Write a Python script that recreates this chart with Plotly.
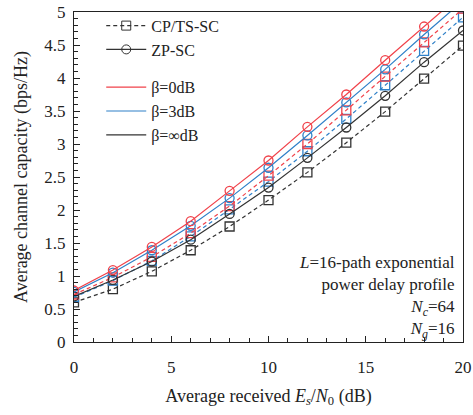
import plotly.graph_objects as go

snr_db = [0, 2, 4, 6, 8, 10, 12, 14, 16, 18, 20]

zp_beta0 = [0.78, 1.09, 1.44, 1.83, 2.29, 2.75, 3.26, 3.75, 4.27, 4.78, 5.29]
zp_beta3 = [0.76, 1.05, 1.39, 1.76, 2.18, 2.64, 3.13, 3.63, 4.13, 4.66, 5.17]
zp_betainf = [0.69, 0.94, 1.22, 1.55, 1.94, 2.34, 2.79, 3.25, 3.73, 4.24, 4.72]
cp_beta0 = [0.72, 0.98, 1.29, 1.65, 2.06, 2.52, 3.00, 3.51, 4.02, 4.54, 5.05]
cp_beta3 = [0.68, 0.93, 1.23, 1.60, 2.01, 2.43, 2.89, 3.38, 3.89, 4.41, 4.92]
cp_betainf = [0.60, 0.80, 1.07, 1.39, 1.75, 2.15, 2.57, 3.02, 3.49, 3.99, 4.49]

RED = "#f0424a"
BLUE = "#2f80c8"
BLACK = "#333333"
DASH = "4px,3px"
FONT = "Liberation Serif"

fig = go.Figure()

series = [
    (cp_betainf, BLACK, "square-open", DASH),
    (cp_beta3, BLUE, "square-open", DASH),
    (cp_beta0, RED, "square-open", DASH),
    (zp_betainf, BLACK, "circle-open", "solid"),
    (zp_beta3, BLUE, "circle-open", "solid"),
    (zp_beta0, RED, "circle-open", "solid"),
]
for ys, col, sym, dash in series:
    fig.add_trace(go.Scatter(
        x=snr_db, y=ys, mode="lines+markers",
        line=dict(color=col, width=1.2, dash=dash),
        marker=dict(symbol=sym, size=9, color=col, line=dict(width=1.3)),
        showlegend=False, cliponaxis=True,
    ))

# legend entries
fig.add_trace(go.Scatter(x=[None], y=[None], mode="lines+markers", name="CP/TS-SC",
                         line=dict(color=BLACK, width=1.2, dash=DASH),
                         marker=dict(symbol="square-open", size=9, color=BLACK),
                         legendgroup="a"))
fig.add_trace(go.Scatter(x=[None], y=[None], mode="lines+markers", name="ZP-SC",
                         line=dict(color=BLACK, width=1.2),
                         marker=dict(symbol="circle-open", size=9, color=BLACK),
                         legendgroup="a"))
for name, col in [("β=0dB", RED), ("β=3dB", BLUE), ("β=∞dB", BLACK)]:
    fig.add_trace(go.Scatter(x=[None], y=[None], mode="lines", name=name,
                             line=dict(color=col, width=1.2), legendgroup="b"))

fig.add_annotation(
    x=0.985, y=0.276, xref="paper", yref="paper", xanchor="right", yanchor="top",
    align="right", showarrow=False,
    text="<i>L</i>=16-path exponential<br>power delay profile<br><i>N</i><sub><i>c</i></sub>=64<br><i>N</i><sub><i>g</i></sub>=16",
    font=dict(family=FONT, size=17, color="#222"),
)

fig.update_layout(
    width=473, height=415,
    margin=dict(l=74, r=10, t=12, b=73, autoexpand=False),
    paper_bgcolor="white", plot_bgcolor="white",
    font=dict(family=FONT, size=17, color="#222"),
    showlegend=True,
    legend=dict(x=0.07, y=1.01, xanchor="left", yanchor="top",
                bgcolor="rgba(0,0,0,0)", font=dict(family=FONT, size=16),
                traceorder="grouped", tracegroupgap=14, itemwidth=40),
    xaxis=dict(range=[0, 20], dtick=5, ticks="inside", ticklen=6, tickcolor="#222",
               showline=True, linecolor="#222", linewidth=1, mirror=True,
               showgrid=False, zeroline=False, automargin=False,
               ticklabelstandoff=10,
               minor=dict(ticks="inside", ticklen=4, dtick=1, tickcolor="#222"),
               title=dict(text="Average received <i>E</i><sub><i>s</i></sub>/<i>N</i><sub>0</sub> (dB)",
                          font=dict(family=FONT, size=18), standoff=12)),
    yaxis=dict(range=[0, 5], dtick=0.5, ticks="inside", ticklen=6, tickcolor="#222",
               showline=True, linecolor="#222", linewidth=1, mirror=True,
               showgrid=False, zeroline=False, automargin=False,
               ticklabelstandoff=4,
               minor=dict(ticks="inside", ticklen=4, dtick=0.1, tickcolor="#222"),
               title=dict(text="Average channel capacity (bps/Hz)",
                          font=dict(family=FONT, size=18), standoff=12)),
)

fig.write_html("out.html", config={"displayModeBar": False},
               post_script="document.body.style.margin='0';")
